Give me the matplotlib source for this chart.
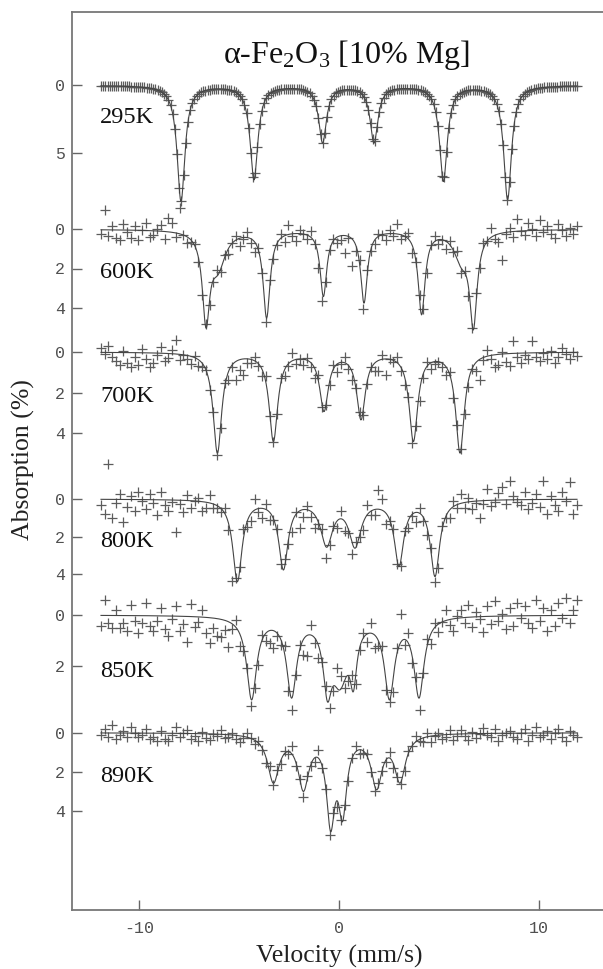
import numpy as np
import matplotlib
matplotlib.use("Agg")
from matplotlib import pyplot as plt

plt.rcParams['mathtext.fontset'] = 'custom'
plt.rcParams['mathtext.rm'] = 'Liberation Serif'
plt.rcParams['mathtext.it'] = 'Liberation Serif:italic'
plt.rcParams['axes.unicode_minus'] = False

temps = ['295K', '600K', '700K', '800K', '850K', '890K']

# fitted lines: centre (mm/s), absorption at the centre (%), FWHM (mm/s)
centres_295 = [-7.9, -4.25, -0.82, 1.75, 5.22, 8.43]
depths_295 = [8.64, 7.03, 4.3, 4.3, 7.15, 8.5]
fwhm_295 = [0.47, 0.47, 0.47, 0.47, 0.47, 0.47]

centres_600 = [-6.65, -6.05, -3.62, -0.78, 1.25, 4.13, 6.12, 6.72]
depths_600 = [5.05, 2.33, 4.54, 3.44, 3.78, 4.37, 2.0, 5.14]
fwhm_600 = [0.44, 0.9, 0.42, 0.4, 0.4, 0.42, 0.9, 0.44]

centres_700 = [-6.08, -3.28, -0.75, 1.1, 3.72, 6.05]
depths_700 = [4.99, 4.42, 2.94, 3.35, 4.42, 4.99]
fwhm_700 = [0.52, 0.52, 0.52, 0.52, 0.52, 0.52]

centres_800 = [-5.08, -2.78, -0.62, 0.8, 3.0, 4.8]
depths_800 = [4.4, 3.78, 2.57, 2.62, 3.6, 4.13]
fwhm_800 = [0.56, 0.56, 0.72, 0.72, 0.56, 0.56]

centres_850 = [-4.37, -2.37, -0.58, 0.05, 0.72, 2.52, 4.0]
depths_850 = [3.36, 3.29, 3.43, 2.96, 3.03, 3.36, 3.29]
fwhm_850 = [0.6, 0.6, 0.5, 1.0, 0.4, 0.6, 0.6]

centres_890 = [-3.28, -1.78, -0.42, 0.18, 1.88, 3.05]
depths_890 = [2.58, 3.0, 5.05, 4.54, 2.92, 2.58]
fwhm_890 = [0.7, 0.66, 0.5, 0.5, 0.66, 0.66]

# scatter of the measured points about the fit, tenths of a percent
resid_600 = [2, -10, 3, -2, 4, 5, -3, 1, 4, -2, 5, 0, -4, 3, 2, -1,
             -3, 4, -7, -5, 2, -13, 0, 3, 1, -1, 2, 4, -2, 3, 1, -3,
             2, -1, 3, 0, -2, 4, 1, -3, 2, 5, -1, 0, 3, -4, 2, 1,
             -2, 3, -5, 1, 4, -2, 0, 2, -3, 1, 6, 5, 2, 0, -1, 3,
             2, 9, 1, 14, 3, -2, 4, -3, 1, 2, -1, 0, 3, -2, 1, -5,
             2, 0, -3, 4, 1, -2, 3, 5, -1, -3, 2, 0, 4, -2, 1, -4,
             3, -1, 5, 2, -7, 1, -3, 0, -5, 2, 4, 14, 1, -2, 3, -6,
             0, 2, -4, -1, 3, -5, 1, -2, 2, 4, -3, 0, 3, -1, 2, -2]
resid_700 = [-2, 1, -3, 2, 4, 6, -1, 5, 7, 2, 6, -2, 3, 7, 5, 1,
             -3, 4, 2, -2, -7, 3, 0, 2, 4, -1, 3, 2, 0, 3, -2, 1,
             3, -2, 4, 1, 9, 5, 8, 2, 2, -2, 1, 3, -3, 2, 0, 1,
             -2, 3, 1, -4, 2, 0, 3, -1, 2, 5, -3, 1, 0, 2, -2, 4,
             1, -3, 2, 4, 0, -2, 3, 1, -1, 4, 5, -2, 8, 0, 1, -3,
             2, 4, -1, 3, 0, 5, 2, -2, 3, 1, 0, 2, 4, -1, 3, -2,
             -1, 2, 3, 0, 4, 10, 1, -3, 2, 6, 5, -1, 4, 6, -6, 2,
             5, 1, 3, -6, 2, 4, 0, 3, -1, 5, 2, -2, 1, 3, 0, 2]
resid_800 = [3, 8, -19, 10, 2, -3, 12, 4, -2, 6, -4, 1, 5, -3, 2, 8,
             -4, 3, 6, 1, 17, 2, 6, -3, 4, 0, -2, 5, 3, -4, 2, 1,
             2, -3, 4, 20, 1, -2, -5, 3, 4, -6, 2, 5, -3, 4, 1, -2,
             3, -4, 2, 5, -1, 9, 4, -2, 3, 7, 1, -3, 6, 2, -1, 4,
             -4, 5, 2, 6, -3, 1, 4, -5, 2, 3, -10, -6, 6, 1, -3, 2,
             3, -2, 4, 1, 5, -3, 2, 4, -1, 3, 6, -2, 1, 4, -3, 2,
             -5, 3, -2, 4, 1, 9, 2, -6, 3, 1, -4, -7, 2, -10, -2, 1,
             3, -4, 5, 2, -3, 4, -10, 8, -2, 3, 6, -4, 1, -9, 8, 3]
resid_850 = [4, -6, 3, 5, -2, 5, 3, 6, -4, 2, 7, 3, -5, 4, 6, 2,
             -3, 5, 8, 1, -4, 6, 3, 10, -5, 4, 2, -3, 6, 10, 4, 7,
             7, 4, 10, 2, -3, 5, 2, -1, 3, 2, 4, -2, 3, 5, 7, 1,
             2, -3, 4, 5, 1, -2, 6, 8, -4, 2, 5, 0, -3, 4, 2, -8,
             -5, 3, 2, -6, 4, 1, -2, 3, -4, 5, 2, -3, 4, 1, 6, -2,
             -11, 2, -4, 3, -2, 5, 1, -3, 4, -2, 3, 0, -4, 2, 5, -1,
             -3, 2, -5, 4, -2, 1, 6, -4, 3, -6, 2, -1, 5, -3, 4, -5,
             1, -4, 3, 5, -6, 2, -3, 6, -2, 4, -5, 1, -7, 3, -2, -6]
resid_890 = [1, -2, 2, -4, 3, 1, -1, 2, -3, 0, 2, 1, -2, 3, 2, 4,
             -1, 3, 4, 1, -3, 2, 0, -2, 3, 1, 4, -1, 2, 3, 0, 1,
             -2, 2, 1, -1, 2, 3, 1, -2, 0, 2, -1, 1, 3, -3, 1, -2,
             2, -1, 1, -4, 2, 0, 3, -2, 1, 2, -4, 1, 0, 4, -2, 3,
             1, -2, 3, 0, -3, 2, 1, -1, 2, 3, -2, 0, 1, -3, 2, 0,
             1, 2, -1, 0, -3, 1, 2, -2, 3, 0, -1, 2, 1, -2, 3, 1,
             -2, 1, 3, -1, 2, 0, -3, 1, 2, -2, 4, 1, 0, -1, 2, 3,
             0, -2, 4, 1, -3, 2, 1, -1, 3, 0, -2, 2, 4, -1, 1, 2]
resid_295 = [0] * 220

yticks_295 = [0, 5]
yticks_600 = [0, 2, 4]
yticks_700 = [0, 2, 4]
yticks_800 = [0, 2, 4]
yticks_850 = [0, 2]
yticks_890 = [0, 2, 4]

xticks = [-10, 0, 10]

spectra = [
    (centres_295, depths_295, fwhm_295, resid_295, yticks_295),
    (centres_600, depths_600, fwhm_600, resid_600, yticks_600),
    (centres_700, depths_700, fwhm_700, resid_700, yticks_700),
    (centres_800, depths_800, fwhm_800, resid_800, yticks_800),
    (centres_850, depths_850, fwhm_850, resid_850, yticks_850),
    (centres_890, depths_890, fwhm_890, resid_890, yticks_890),
]

# stacking: pixel row of zero absorption, pixels per percent, label baseline
zero_px = [85.3, 229.3, 352.0, 499.0, 615.0, 732.7]
px_per_pct = [13.47, 19.6, 20.3, 18.8, 25.3, 19.6]
label_px = [122.7, 278.3, 401.7, 546.7, 676.7, 781.7]


def fit_curve(v, centres, depths, fwhm):
    c = np.asarray(centres, float)
    g = np.asarray(fwhm, float) / 2
    shape = g**2 / ((c[:, None] - c[None, :])**2 + g[None, :]**2)
    amps = np.linalg.solve(shape, np.asarray(depths, float))
    return (amps * g**2 / ((v[:, None] - c)**2 + g**2)).sum(axis=1)


fig = plt.figure(figsize=(6.03, 9.69), dpi=100)
ax = fig.add_axes([72 / 603, 59 / 969, 531 / 603, 898 / 969])
ax.set_xlim(-13.35, 13.2)
ax.set_ylim(910, 12)

v_fine = np.linspace(-11.9, 11.9, 800)
tick_pos = []
tick_lab = []
for i, (c, d, w, r, yt) in enumerate(spectra):
    v_pts = np.linspace(-11.9, 11.9, len(r))
    pts = fit_curve(v_pts, c, d, w) + np.asarray(r) / 10.0
    line = fit_curve(v_fine, c, d, w)
    ax.plot(v_pts, zero_px[i] + px_per_pct[i] * pts, ls='none', marker='+',
            ms=7, mew=0.9, color='#5c5c5c', clip_on=False)
    ax.plot(v_fine, zero_px[i] + px_per_pct[i] * line, color='#444444', lw=0.8)
    ax.text(-11.95, label_px[i], temps[i], fontsize=17.5, family='Liberation Serif',
            ha='left', va='baseline', color='#111111')
    for t in yt:
        tick_pos.append(zero_px[i] + px_per_pct[i] * t)
        tick_lab.append(str(t))

ax.set_yticks(tick_pos)
ax.set_yticklabels(tick_lab)
ax.set_xticks(xticks)
ax.set_xticklabels([str(t) for t in xticks])
ax.tick_params(axis='both', direction='in', length=7, width=1.0, color='#666666',
               labelcolor='#505050', labelsize=12)
ax.tick_params(axis='y', pad=5)
ax.tick_params(axis='x', pad=8)
for lbl in ax.get_xticklabels() + ax.get_yticklabels():
    lbl.set_fontfamily('Liberation Mono')

for side in ['left', 'top', 'bottom']:
    ax.spines[side].set_color('#777777')
    ax.spines[side].set_linewidth(1.3)
ax.spines['right'].set_visible(False)

ax.text(0.37, 63.5, 'α-Fe$_2$O$_3$ [10% Mg]', fontsize=23,
        family='Liberation Serif', ha='center', va='baseline', color='#111111')

fig.text(339 / 603, (969 - 963) / 969, 'Velocity (mm/s)', fontsize=18.5,
         family='Liberation Serif', ha='center', va='baseline', color='#222222')
fig.text(23 / 603, (969 - 460) / 969, 'Absorption (%)', fontsize=18.5,
         family='Liberation Serif', ha='center', va='center', rotation=90,
         color='#222222')

fig.savefig('out.png', dpi=100)
